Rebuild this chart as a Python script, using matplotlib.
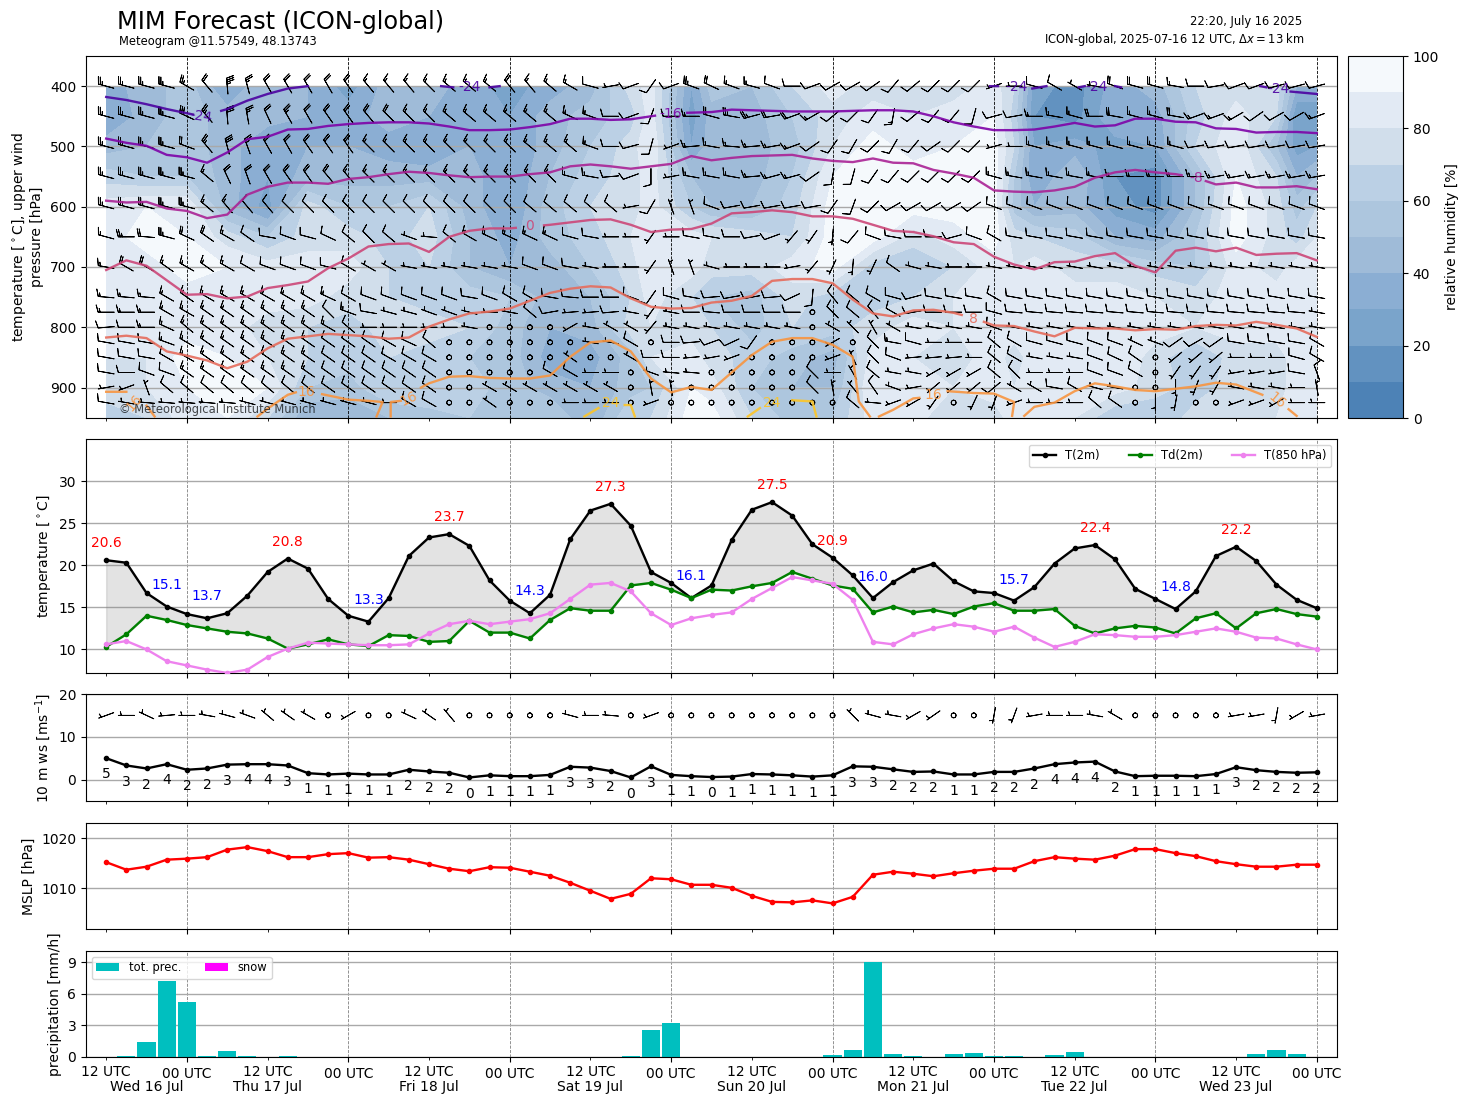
#!/usr/bin/env python3
"""
MIM meteogram, ICON-global run of 2025-07-16 12 UTC
"""

import numpy as np
import matplotlib
matplotlib.use('Agg')
import matplotlib.pyplot as plt
from matplotlib.colors import ListedColormap

# step number along the time axis, one step is 3 hours
steps = np.arange(61)
hours = steps * 3

t2m = [20.6, 20.3, 16.7, 15.1, 14.2, 13.7, 14.3, 16.4, 19.2, 20.8, 19.6, 16.0, 14.0, 13.3, 16.1, 21.1,
       23.3, 23.7, 22.3, 18.2, 15.8, 14.3, 16.5, 23.1, 26.5, 27.3, 24.7, 19.2, 17.9, 16.1, 17.6, 23.0,
       26.6, 27.5, 25.9, 22.5, 20.9, 18.8, 16.1, 18.0, 19.4, 20.2, 18.1, 16.9, 16.7, 15.8, 17.4, 20.2,
       22.0, 22.4, 20.7, 17.2, 16.0, 14.8, 16.9, 21.1, 22.2, 20.5, 17.7, 15.9, 14.9]
td2m = [10.3, 11.8, 14.0, 13.5, 12.9, 12.5, 12.1, 11.9, 11.3, 10.1, 10.6, 11.2, 10.6, 10.4, 11.7, 11.6,
        10.9, 11.0, 13.4, 12.0, 12.0, 11.3, 13.5, 14.9, 14.6, 14.6, 17.6, 17.9, 17.1, 16.1, 17.1, 17.0,
        17.5, 17.9, 19.2, 18.4, 17.6, 17.2, 14.4, 15.1, 14.4, 14.7, 14.2, 15.1, 15.5, 14.6, 14.6, 14.8,
        12.8, 11.9, 12.5, 12.8, 12.6, 11.9, 13.7, 14.3, 12.5, 14.3, 14.8, 14.2, 13.9]
t850 = [10.6, 11.0, 10.0, 8.6, 8.1, 7.6, 7.2, 7.6, 9.1, 10.1, 10.8, 10.7, 10.6, 10.5, 10.5, 10.6,
        11.9, 13.0, 13.4, 13.0, 13.3, 13.6, 14.3, 16.0, 17.7, 17.9, 16.9, 14.3, 12.9, 13.7, 14.1, 14.4,
        16.0, 17.3, 18.6, 18.2, 17.8, 15.9, 10.9, 10.6, 11.8, 12.5, 13.0, 12.7, 12.1, 12.7, 11.4, 10.3,
        10.9, 11.8, 11.7, 11.5, 11.5, 11.7, 12.1, 12.5, 12.1, 11.4, 11.3, 10.6, 10.0]

max_labels = [(0, 20.6), (9, 20.8), (17, 23.7), (25, 27.3), (33, 27.5), (36, 20.9), (49, 22.4), (56, 22.2)]
min_labels = [(3, 15.1), (5, 13.7), (13, 13.3), (21, 14.3), (29, 16.1), (38, 16.0), (45, 15.7), (53, 14.8)]

ws10 = [5.0, 3.3, 2.6, 3.6, 2.3, 2.6, 3.5, 3.6, 3.6, 3.3, 1.5, 1.2, 1.4, 1.2, 1.2, 2.3, 1.9, 1.6, 0.5, 1.0,
        0.8, 0.8, 1.1, 3.0, 2.8, 2.0, 0.5, 3.1, 1.1, 0.8, 0.6, 0.7, 1.3, 1.2, 1.0, 0.7, 1.0, 3.1, 3.0, 2.4,
        1.8, 1.9, 1.2, 1.2, 1.8, 1.8, 2.6, 3.6, 4.0, 4.2, 1.9, 0.8, 0.9, 0.9, 0.8, 1.3, 2.9, 2.2, 1.8, 1.6, 1.7]
ws10_labels = [5, 3, 2, 4, 2, 2, 3, 4, 4, 3, 1, 1, 1, 1, 1, 2, 2, 2, 0, 1,
               1, 1, 1, 3, 3, 2, 0, 3, 1, 1, 0, 1, 1, 1, 1, 1, 1, 3, 3, 2,
               2, 2, 1, 1, 2, 2, 2, 4, 4, 4, 2, 1, 1, 1, 1, 1, 3, 2, 2, 2, 2]

mslp = [1015.2, 1013.7, 1014.3, 1015.7, 1015.9, 1016.2, 1017.7, 1018.2, 1017.4, 1016.2, 1016.2, 1016.8,
        1017.0, 1016.1, 1016.2, 1015.7, 1014.8, 1013.9, 1013.4, 1014.2, 1014.1, 1013.3, 1012.5, 1011.1,
        1009.5, 1007.9, 1008.9, 1012.0, 1011.8, 1010.7, 1010.7, 1010.1, 1008.5, 1007.3, 1007.2, 1007.6,
        1007.0, 1008.3, 1012.7, 1013.3, 1012.9, 1012.4, 1013.0, 1013.5, 1013.9, 1013.9, 1015.4, 1016.2,
        1015.9, 1015.7, 1016.5, 1017.8, 1017.8, 1017.0, 1016.4, 1015.4, 1014.8, 1014.3, 1014.3, 1014.7, 1014.7]

precip = [0, 0.08, 1.4, 7.25, 5.2, 0.1, 0.55, 0.1, 0, 0.1, 0, 0, 0, 0, 0, 0, 0, 0, 0, 0,
          0, 0, 0, 0, 0, 0, 0.1, 2.55, 3.2, 0, 0, 0, 0, 0, 0, 0, 0.2, 0.65, 9.0, 0.25,
          0.1, 0, 0.25, 0.35, 0.1, 0.08, 0, 0.15, 0.45, 0, 0, 0, 0, 0, 0, 0, 0, 0.3, 0.65, 0.3, 0]
snow = [0] * 61

# relative humidity, read at these steps and pressure levels
rh_steps = [0, 2, 4, 6, 8, 10, 12, 14, 16, 18, 20, 22, 24, 26, 27, 29, 30, 32, 34, 36, 38, 40, 42, 44,
            45, 46, 48, 50, 52, 54, 56, 58, 59, 60]
rh_levels = [400, 450, 500, 550, 600, 650, 700, 750, 800, 850, 900, 950]
rh_columns = [
    [35, 30, 45, 65, 85, 85, 85, 85, 85, 80, 75, 65],
    [45, 45, 50, 60, 90, 95, 85, 85, 85, 80, 80, 70],
    [55, 55, 55, 60, 90, 90, 95, 85, 85, 95, 90, 85],
    [30, 45, 45, 45, 45, 75, 90, 90, 85, 90, 95, 90],
    [50, 45, 30, 30, 25, 60, 85, 85, 75, 80, 90, 70],
    [40, 40, 40, 45, 75, 75, 85, 85, 70, 70, 60, 40],
    [25, 35, 40, 45, 60, 75, 85, 75, 65, 65, 55, 40],
    [45, 45, 35, 45, 60, 65, 70, 70, 75, 70, 70, 50],
    [45, 40, 30, 45, 70, 75, 70, 65, 75, 65, 70, 55],
    [35, 40, 40, 45, 45, 50, 50, 65, 70, 60, 65, 60],
    [25, 30, 30, 30, 30, 35, 40, 60, 55, 55, 55, 60],
    [35, 45, 45, 50, 55, 55, 45, 45, 40, 35, 45, 60],
    [45, 55, 60, 65, 70, 65, 60, 50, 45, 35, 40, 40],
    [75, 65, 75, 75, 75, 80, 75, 70, 75, 55, 55, 70],
    [85, 85, 90, 85, 85, 90, 90, 85, 80, 80, 60, 70],
    [30, 25, 30, 50, 60, 85, 85, 70, 75, 85, 90, 95],
    [55, 45, 45, 45, 50, 80, 75, 60, 70, 75, 85, 95],
    [50, 45, 45, 45, 50, 75, 75, 55, 55, 65, 60, 70],
    [70, 60, 55, 60, 65, 70, 85, 75, 70, 55, 50, 55],
    [85, 75, 80, 90, 95, 95, 95, 65, 65, 45, 50, 60],
    [75, 85, 95, 95, 95, 95, 65, 65, 75, 85, 90, 85],
    [75, 80, 85, 95, 95, 75, 60, 70, 85, 80, 85, 85],
    [75, 85, 90, 95, 95, 85, 70, 80, 80, 75, 80, 70],
    [85, 90, 95, 95, 95, 95, 85, 85, 85, 85, 85, 75],
    [70, 65, 70, 60, 55, 75, 80, 85, 85, 75, 80, 85],
    [25, 20, 30, 30, 40, 70, 85, 85, 85, 85, 85, 80],
    [15, 15, 35, 50, 45, 65, 75, 85, 90, 85, 85, 80],
    [35, 40, 25, 20, 25, 40, 75, 85, 90, 90, 85, 60],
    [45, 35, 30, 15, 15, 35, 65, 80, 85, 75, 75, 60],
    [70, 65, 70, 50, 50, 60, 60, 75, 80, 60, 65, 75],
    [75, 85, 90, 90, 95, 95, 85, 85, 85, 75, 75, 75],
    [75, 70, 50, 70, 75, 75, 75, 85, 85, 75, 75, 80],
    [40, 20, 25, 40, 55, 65, 85, 85, 85, 85, 85, 90],
    [40, 20, 30, 50, 70, 80, 85, 90, 90, 90, 90, 80],
]
rh_colors = ['#4d82b6', '#6292c0', '#7aa4cb', '#8baed3', '#9fbbd8', '#adc6de', '#bbd0e5', '#d1deeb', '#e2eaf4', '#f5f9fc']

# isotherm heights in hPa, one per step where the line is regular
iso_m16 = [487, 494, 499, 514, 518, 527, 510, 488, 484, 472, 471, 466, 463, 461, 460, 460, 462, 467, 473, 473,
           472, 468, 463, 454, 454, 456, 455, 450, 445, 444, 443, 439, 440, 441, 442, 442, 442, 441, 440, 440,
           442, 450, 460, 467, 473, 473, 472, 467, 461, 467, 465, 454, 454, 459, 460, 470, 471, 477, 476, 476, 478]
iso_m8 = [590, 593, 592, 603, 607, 619, 613, 580, 567, 560, 560, 562, 554, 551, 546, 542, 544, 548, 551, 550,
          550, 546, 543, 533, 530, 533, 537, 533, 529, 516, 523, 519, 516, 515, 514, 520, 524, 526, 520, 527,
          528, 539, 545, 552, 573, 575, 576, 573, 567, 552, 543, 539, 543, 546, 552, 563, 560, 568, 568, 566, 571]
iso_0 = [705, 689, 698, 722, 746, 745, 752, 749, 735, 730, 724, 702, 686, 666, 662, 661, 675, 650, 640, 636,
         636, 633, 630, 626, 622, 621, 630, 642, 638, 637, 628, 611, 609, 606, 609, 616, 616, 620, 630, 640,
         642, 649, 659, 662, 683, 696, 704, 692, 691, 682, 677, 698, 709, 673, 668, 674, 668, 680, 678, 677, 689]
iso_8 = [817, 814, 818, 840, 847, 855, 868, 857, 835, 819, 815, 811, 813, 815, 819, 817, 799, 787, 777, 774,
         769, 756, 743, 736, 732, 734, 752, 766, 769, 768, 759, 756, 748, 723, 720, 720, 727, 754, 777, 782,
         772, 771, 776, 785, 797, 798, 807, 815, 801, 802, 802, 805, 803, 804, 798, 796, 797, 791, 796, 802, 816]

# the coldest and warmest lines break up, nan between the pieces
iso_m24_steps = [0, 1, 2, 3, 4, 4.3, np.nan, 5.7, 6, 7, 8, 9, 10, np.nan, 16.6, 17.2, np.nan, 19, 19.5, np.nan,
                 43.8, 44.2, np.nan, 45.9, 46.6, np.nan, 48.2, 48.5, np.nan, 50, 50.3, np.nan, 57.2, 57.5, np.nan, 58.7, 60]
iso_m24_p = [418, 423, 430, 438, 445, 447, np.nan, 441, 438, 424, 413, 404, 400, np.nan, 400, 402, np.nan, 402, 400, np.nan,
             400, 400, np.nan, 404, 400, np.nan, 402, 400, np.nan, 400, 402, np.nan, 400, 402, np.nan, 409, 413]
iso_16_steps = [0, 1, np.nan, 2, 2.4, np.nan, 7.5, 8, 9, 9.4, np.nan, 10.7, 12, 13, 13.7, 13.4, np.nan, 14.1, 14.1, 14.6, np.nan,
                15.6, 16, 17, 18, 19, 20, 21, 22, 23, 24, 25, 26, 27, 28, 29, 30, 31, 32, 33, 34, 35, 36, 37, 37.3, 37.85, np.nan,
                38.3, 39, 40, 40.3, np.nan, 41.7, 43, 44, 45, 44.9, np.nan, 45.5, 46, 47, 48, 49, 50, 51, 52, 53, 54, 55, 56, 57.3, np.nan,
                58.6, 59]
iso_16_p = [907, 907, np.nan, 930, 948, np.nan, 948, 935, 912, 908, np.nan, 911, 920, 922, 924, 948, np.nan, 948, 924, 922, np.nan,
            900, 893, 882, 881, 884, 885, 885, 880, 849, 825, 822, 840, 885, 908, 899, 904, 875, 846, 824, 818, 818, 829, 849, 923, 948, np.nan,
            948, 937, 918, 917, np.nan, 906, 909, 910, 924, 947, np.nan, 947, 932, 925, 906, 893, 898, 904, 906, 902, 898, 892, 895, 912, np.nan,
            936, 947]
iso_24_steps = [23.7, 24.4, np.nan, 25.7, 26, 26.2, np.nan, 31.8, 32.4, np.nan, 34, 35, 35.2]
iso_24_p = [948, 934, np.nan, 929, 929, 948, np.nan, 948, 934, np.nan, 921, 923, 948]

# gaps that make room for the labels: level, first step, last step
iso_gaps = [(-16, 27.2, 28.8), (-8, 53.3, 54.5), (0, 20.3, 21.7), (8, 42.4, 43.5)]
# label text, step, pressure, rotation
iso_labels = [(-24, 4.7, 450, -8), (-24, 18, 402, 0), (-24, 45.1, 401, 0), (-24, 49.1, 401, 0), (-24, 58.1, 404, 0),
              (-16, 28, 447, 0), (-8, 54, 552, 0), (0, 21, 632, 0), (8, 43, 786, 0),
              (16, 1.4, 925, 50), (16, 9.9, 908, 0), (16, 15, 918, 25), (16, 41, 913, 0), (16, 58, 922, -40),
              (24, 25, 926, 0), (24, 33, 926, 0)]

# upper winds, for each level a list of (first step, direction, speed)
wind_levels = [400, 450, 500, 550, 600, 650, 700, 750, 775, 800, 825, 850, 875, 900, 925]
wind_400 = [(0, 285, 25), (4, 300, 25), (5, 320, 20), (6, 355, 35), (7, 345, 25), (8, 330, 20), (12, 325, 20), (13, 320, 15),
            (16, 315, 15), (17, 310, 15), (20, 320, 20), (21, 320, 15), (22, 310, 15), (23, 300, 15), (24, 285, 10), (25, 260, 5),
            (26, 250, 10), (27, 215, 10), (28, 250, 10), (29, 290, 25), (30, 295, 20), (31, 290, 15), (32, 285, 15), (33, 290, 10),
            (34, 270, 10), (35, 250, 10), (36, 240, 10), (38, 235, 10), (39, 220, 10), (40, 230, 10), (41, 225, 10), (44, 250, 5),
            (45, 270, 5), (46, 285, 10), (47, 300, 10), (48, 300, 5), (49, 280, 5), (50, 290, 20), (51, 285, 20), (53, 280, 15),
            (54, 270, 10), (55, 260, 10), (56, 250, 10), (58, 255, 10)]
wind_450 = [(0, 285, 25), (4, 295, 30), (5, 320, 25), (6, 355, 30), (7, 350, 25), (8, 335, 20), (9, 330, 25), (10, 330, 20),
            (11, 325, 20), (13, 320, 20), (14, 315, 20), (15, 315, 15), (17, 310, 15), (23, 295, 15), (24, 290, 15), (25, 270, 10),
            (26, 250, 10), (27, 200, 10), (28, 270, 10), (29, 270, 15), (30, 285, 20), (31, 280, 25), (32, 255, 25), (33, 260, 20),
            (34, 250, 20), (35, 240, 15), (36, 230, 10), (37, 225, 10), (38, 215, 10), (39, 190, 15), (40, 230, 10), (41, 220, 10),
            (43, 195, 10), (44, 255, 10), (45, 260, 10), (46, 270, 15), (47, 280, 15), (48, 285, 15), (49, 270, 20), (50, 280, 20),
            (51, 285, 15), (53, 280, 20), (54, 250, 15), (56, 240, 15), (57, 235, 10), (58, 240, 10), (60, 250, 15)]
wind_500 = [(0, 285, 25), (4, 290, 20), (5, 320, 25), (6, 345, 30), (7, 340, 25), (8, 330, 20), (10, 325, 20), (13, 315, 15),
            (21, 310, 15), (24, 290, 15), (25, 270, 10), (26, 255, 10), (27, 195, 10), (28, 250, 5), (29, 265, 15), (30, 280, 15),
            (31, 275, 15), (32, 265, 15), (33, 260, 15), (34, 250, 15), (35, 235, 10), (36, 215, 10), (37, 210, 10), (38, 225, 10),
            (39, 210, 10), (40, 220, 10), (41, 235, 10), (42, 225, 10), (44, 255, 5), (45, 270, 5), (46, 285, 15), (54, 260, 10)]
wind_550 = [(0, 285, 25), (5, 310, 15), (6, 335, 20), (7, 340, 20), (8, 330, 20), (9, 325, 20), (11, 320, 20), (12, 320, 15),
            (13, 315, 15), (23, 285, 15), (24, 280, 15), (25, 265, 10), (26, 250, 10), (27, 180, 10), (28, 260, 5), (29, 280, 15),
            (32, 265, 15), (33, 255, 15), (35, 235, 10), (36, 190, 10), (37, 195, 10), (38, 215, 10), (39, 220, 10), (40, 225, 10),
            (44, 285, 15), (45, 280, 15), (50, 270, 15), (55, 260, 15)]
wind_600 = [(0, 285, 25), (5, 310, 15), (6, 320, 15), (7, 320, 10), (9, 315, 10), (21, 310, 10), (26, 260, 5), (27, 210, 10),
            (28, 340, 5), (30, 290, 10), (31, 260, 10), (36, 215, 10), (37, 200, 10), (38, 225, 10), (39, 240, 10), (43, 235, 10),
            (44, 290, 10)]
wind_650 = [(0, 285, 15), (1, 270, 25), (2, 275, 20), (3, 285, 25), (4, 295, 20), (5, 305, 20), (6, 300, 15), (7, 305, 10),
            (8, 280, 10), (9, 290, 10), (10, 285, 10), (11, 295, 10), (12, 310, 10), (13, 315, 10), (14, 310, 10), (15, 290, 5),
            (16, 275, 5), (17, 310, 10), (18, 300, 15), (19, 295, 15), (23, 285, 10), (24, 280, 10), (25, 270, 5), (27, 215, 5),
            (28, 270, 5), (29, 280, 10), (31, 270, 10), (32, 260, 10), (33, 250, 10), (34, 220, 5), (35, 215, 5), (36, 185, 5),
            (37, 220, 10), (38, 290, 10), (39, 280, 10), (40, 270, 10), (42, 255, 10), (43, 290, 10), (44, 300, 10), (45, 280, 10)]
wind_700 = [(0, 280, 15), (1, 300, 20), (3, 305, 15), (4, 300, 15), (5, 305, 15), (6, 300, 15), (7, 300, 10), (8, 290, 10),
            (11, 285, 10), (12, 300, 10), (13, 300, 5), (15, 280, 5), (21, 290, 10), (23, 280, 10), (24, 280, 5), (25, 270, 5),
            (27, 215, 5), (28, 340, 5), (30, 285, 5), (31, 270, 5), (34, 260, 5), (35, 220, 5), (36, 205, 5), (37, 185, 5),
            (38, 205, 5), (39, 305, 10), (40, 285, 5), (41, 280, 5), (42, 270, 5), (44, 280, 5)]
wind_750 = [(0, 275, 15), (3, 300, 15), (4, 305, 15), (5, 300, 15), (11, 295, 15), (12, 300, 10), (13, 290, 10), (18, 280, 10),
            (19, 290, 10), (20, 300, 10), (22, 280, 10), (23, 275, 10), (24, 270, 10), (26, 290, 10), (27, 215, 10), (28, 285, 10),
            (29, 280, 10), (30, 265, 10), (31, 260, 10), (33, 265, 10), (34, 245, 10), (35, 185, 10), (36, 320, 10), (37, 310, 10),
            (38, 300, 10), (39, 285, 10), (40, 255, 10), (41, 280, 10), (44, 300, 10), (45, 280, 10)]
wind_775 = [(0, 270, 15), (3, 300, 15), (5, 305, 15), (11, 315, 10), (12, 290, 15), (13, 280, 10), (14, 285, 5), (16, 290, 5),
            (18, 285, 5), (19, 270, 5), (20, 280, 5), (21, 310, 10), (22, 260, 10), (23, 265, 5), (25, 265, 10), (26, 280, 5),
            (27, 215, 5), (28, 280, 5), (29, 270, 10), (30, 275, 10), (31, 270, 10), (35, 0, 0), (36, 315, 10), (37, 310, 10),
            (38, 320, 10), (39, 300, 10), (40, 260, 10), (41, 270, 10), (44, 285, 10), (45, 275, 10), (60, 280, 5)]
wind_800 = [(0, 265, 10), (1, 270, 10), (2, 270, 15), (3, 295, 15), (4, 310, 15), (5, 305, 15), (11, 300, 15), (12, 310, 10),
            (13, 270, 5), (18, 280, 5), (19, 0, 0), (23, 240, 5), (24, 280, 5), (25, 300, 5), (27, 220, 5), (28, 280, 5),
            (35, 0, 0), (36, 300, 5), (37, 315, 5), (38, 330, 5), (39, 300, 5), (40, 280, 5), (44, 290, 10), (45, 280, 5)]
wind_825 = [(0, 280, 10), (3, 290, 15), (4, 300, 15), (5, 305, 15), (11, 305, 10), (14, 300, 10), (15, 295, 10), (16, 310, 10),
            (17, 0, 0), (24, 280, 5), (26, 300, 10), (27, 0, 0), (28, 270, 10), (29, 265, 10), (30, 250, 10), (31, 245, 10),
            (32, 215, 10), (33, 0, 0), (36, 240, 5), (37, 0, 0), (38, 315, 10), (39, 280, 15), (40, 285, 10), (41, 270, 5),
            (44, 310, 10), (45, 300, 10), (46, 285, 10), (49, 290, 10), (51, 295, 5), (52, 290, 5), (53, 235, 10), (54, 240, 10),
            (55, 235, 10), (56, 280, 10), (60, 300, 10)]
wind_850 = [(0, 280, 10), (3, 300, 10), (4, 300, 15), (5, 305, 15), (11, 305, 10), (14, 300, 10), (17, 0, 0), (23, 305, 5),
            (24, 0, 0), (26, 300, 5), (27, 270, 10), (29, 265, 5), (30, 260, 5), (31, 250, 5), (32, 0, 0), (36, 250, 5),
            (37, 335, 5), (38, 315, 10), (39, 290, 10), (40, 265, 5), (43, 270, 5), (44, 310, 10), (45, 300, 10), (46, 280, 5),
            (49, 290, 10), (50, 295, 10), (51, 305, 10), (52, 0, 0), (53, 230, 5), (56, 270, 5), (59, 285, 10), (60, 300, 10)]
wind_875 = [(0, 280, 10), (1, 270, 10), (2, 290, 10), (4, 305, 15), (11, 305, 10), (17, 0, 0), (22, 300, 10), (24, 270, 5),
            (26, 0, 0), (27, 290, 5), (28, 275, 5), (30, 0, 0), (35, 315, 10), (36, 270, 5), (37, 330, 5), (38, 310, 10),
            (39, 280, 5), (41, 240, 5), (44, 310, 10), (45, 315, 10), (46, 270, 5), (49, 290, 10), (51, 300, 10), (52, 0, 0),
            (53, 215, 5), (56, 260, 5), (59, 280, 10), (60, 340, 10)]
wind_900 = [(0, 260, 5), (1, 250, 5), (2, 340, 5), (3, 310, 10), (11, 305, 10), (17, 0, 0), (19, 300, 5), (26, 0, 0), (27, 350, 5),
            (29, 0, 0), (35, 315, 10), (36, 350, 5), (37, 320, 5), (38, 325, 10), (39, 290, 5), (40, 260, 5), (41, 230, 5),
            (44, 230, 10), (45, 300, 5), (47, 280, 10), (48, 300, 10), (49, 285, 5), (50, 280, 5), (51, 0, 0), (53, 180, 5),
            (54, 200, 5), (55, 210, 5), (56, 280, 5), (59, 270, 5), (60, 350, 5)]
wind_925 = [(0, 280, 10), (1, 280, 5), (2, 275, 5), (7, 285, 5), (14, 270, 5), (15, 300, 10), (17, 0, 0), (19, 305, 5), (20, 0, 0),
            (23, 270, 5), (26, 0, 0), (27, 250, 5), (28, 0, 0), (37, 310, 10), (38, 275, 5), (39, 250, 5), (40, 240, 5), (41, 215, 5),
            (42, 0, 0), (43, 205, 5), (44, 200, 5), (45, 250, 5), (46, 270, 5), (49, 310, 10), (50, 305, 10), (51, 0, 0), (52, 180, 5),
            (53, 190, 5), (54, 0, 0), (56, 250, 5), (58, 240, 5), (59, 270, 5)]
wind_rows = [wind_400, wind_450, wind_500, wind_550, wind_600, wind_650, wind_700, wind_750, wind_775, wind_800,
             wind_825, wind_850, wind_875, wind_900, wind_925]
wind_10m = [(0, 250, 5), (1, 270, 5), (2, 295, 5), (3, 265, 5), (4, 270, 5), (5, 280, 5), (6, 285, 5), (7, 290, 5), (8, 310, 5),
            (9, 305, 5), (10, 300, 5), (11, 0, 0), (12, 240, 5), (13, 0, 0), (15, 295, 5), (16, 305, 5), (17, 320, 5), (18, 0, 0),
            (23, 285, 5), (24, 270, 5), (25, 275, 5), (26, 0, 0), (27, 250, 5), (28, 0, 0), (37, 315, 5), (38, 285, 5), (39, 280, 5),
            (40, 240, 5), (41, 235, 5), (42, 0, 0), (44, 190, 5), (45, 200, 5), (46, 260, 5), (47, 270, 5), (49, 280, 5), (50, 300, 5),
            (51, 0, 0), (56, 260, 5), (58, 190, 5), (59, 240, 5), (60, 260, 5)]

tick_12 = ['12 UTC'] * 8
tick_00 = ['00 UTC'] * 8
date_labels = [(2, 'Wed 16 Jul'), (8, 'Thu 17 Jul'), (16, 'Fri 18 Jul'), (24, 'Sat 19 Jul'),
               (32, 'Sun 20 Jul'), (40, 'Mon 21 Jul'), (48, 'Tue 22 Jul'), (56, 'Wed 23 Jul')]


def expand_wind(row):
    """(first step, direction, speed) to u, v on all 61 steps"""
    starts = [r[0] for r in row] + [61]
    direc = np.repeat([r[1] for r in row], np.diff(starts))
    speed = np.repeat([r[2] for r in row], np.diff(starts))
    rad = np.radians(direc)
    return -speed * np.sin(rad), -speed * np.cos(rad)


def cut_line(x, y, gap):
    """take the stretch of a line away where its label goes"""
    x = np.asarray(x, dtype=float)
    y = np.asarray(y, dtype=float)
    y0, y1 = np.interp(gap, x, y)
    xs = np.r_[x[x < gap[0]], gap[0], np.nan, gap[1], x[x > gap[1]]]
    ys = np.r_[y[x < gap[0]], y0, np.nan, y1, y[x > gap[1]]]
    return xs, ys


W, H = 1469.0, 1105.0
barb_sizes = dict(emptybarb=0.15, height=0.45)


def panel(x0, x1, y0, y1):
    return fig.add_axes([x0 / W, 1 - y1 / H, (x1 - x0) / W, (y1 - y0) / H])


fig = plt.figure(figsize=(14.69, 11.05), dpi=100)
ax1 = panel(86, 1337, 56, 418)
ax2 = panel(86, 1337, 439, 673)
ax3 = panel(86, 1337, 694, 801)
ax4 = panel(86, 1337, 823, 929)
ax5 = panel(86, 1337, 951, 1057)
cax = panel(1348, 1403, 56, 418)

for ax in [ax1, ax2, ax3, ax4, ax5]:
    ax.set_xlim(-3, 183)
    ax.set_xticks(np.arange(12, 181, 24))
    ax.set_xticks(np.arange(0, 181, 24), minor=True)
    ax.set_axisbelow(True)
    ax.grid(True, axis='y', color='darkgrey', lw=1.0)
    vcolor = 'black' if ax is ax1 else 'grey'
    ax.grid(True, axis='x', color=vcolor, ls='--', lw=0.6)
    if ax is not ax5:
        ax.set_xticklabels([])

ax5.set_xticklabels(tick_00)
ax5.set_xticklabels(tick_12, minor=True)
for step, name in date_labels:
    ax5.text(step * 3, -0.283, name, transform=ax5.get_xaxis_transform(), ha='center', va='center', fontsize=10)

# upper air panel
rh_grid = np.array(rh_columns).T
cmap = ListedColormap(rh_colors)
cf = ax1.contourf(np.array(rh_steps) * 3, rh_levels, rh_grid, levels=np.arange(0, 101, 10), cmap=cmap, vmin=0, vmax=100, zorder=1)
ax1.set_ylim(950.5, 350)
ax1.set_yticks([400, 500, 600, 700, 800, 900])
ax1.set_axisbelow(False)
ax1.grid(True, axis='y', color='darkgrey', lw=1.0, zorder=2)
ax1.set_ylabel('temperature [$^\\circ$C], upper wind\npressure [hPa]')

for level, row in zip(wind_levels, wind_rows):
    u, v = expand_wind(row)
    ax1.barbs(hours, np.full(61, level), u, v, pivot='middle', length=4.8, linewidth=0.65, color='black', sizes=barb_sizes, zorder=3)

iso_cmap = matplotlib.colormaps['plasma']


def iso_color(level):
    return iso_cmap((level + 32) / 64.0)


for level, values in [(-16, iso_m16), (-8, iso_m8), (0, iso_0), (8, iso_8)]:
    xs, ys = hours.astype(float) / 3, np.array(values, dtype=float)
    for gap in iso_gaps:
        if gap[0] == level:
            xs, ys = cut_line(xs, ys, gap[1:])
    ax1.plot(xs * 3, ys, color=iso_color(level), lw=1.7, alpha=0.9, zorder=4)
for level, xs, ys in [(-24, iso_m24_steps, iso_m24_p), (16, iso_16_steps, iso_16_p), (24, iso_24_steps, iso_24_p)]:
    ax1.plot(np.array(xs) * 3, ys, color=iso_color(level), lw=1.7, alpha=0.9, zorder=4)
for level, step, p, rot in iso_labels:
    ax1.text(step * 3, p, str(level), color=iso_color(level), fontsize=10, ha='center', va='center', rotation=rot, zorder=5, alpha=0.9)

fig.text(119 / W, 1 - 410 / H, '\u00a9 Meteorological Institute Munich', fontsize=8.3, alpha=0.7, ha='left', va='center')

cb = fig.colorbar(cf, cax=cax, ticks=[0, 20, 40, 60, 80, 100])
cb.set_label('relative humidity [%]')
cb.outline.set_linewidth(0.8)

# 2 m temperature panel
ax2.fill_between(hours, t2m, td2m, color='grey', alpha=0.22, zorder=1)
ax2.plot(hours, t2m, color='black', marker='o', ms=3, lw=1.7, label='T(2m)', zorder=3)
ax2.plot(hours, td2m, color='green', marker='o', ms=3, lw=1.7, label='Td(2m)', zorder=3)
ax2.plot(hours, t850, color='violet', marker='o', ms=3, lw=1.7, label='T(850 hPa)', zorder=3)
for step, value in max_labels:
    ax2.text(step * 3, value + 2.0, '%.1f' % value, color='red', ha='center', va='center', fontsize=10)
for step, value in min_labels:
    ax2.text(step * 3, value + 2.6, '%.1f' % value, color='blue', ha='center', va='center', fontsize=10)
ax2.set_ylim(7.2, 35)
ax2.set_yticks([10, 15, 20, 25, 30])
ax2.set_ylabel('temperature [$^\\circ$C]')
ax2.legend(loc='upper right', ncol=3, fontsize=8.3, columnspacing=2.5)

# 10 m wind panel
ax3.plot(hours, ws10, color='black', marker='o', ms=3, lw=1.7)
u10, v10 = expand_wind(wind_10m)
ax3.barbs(hours, np.full(61, 15), u10, v10, pivot='middle', length=4.8, linewidth=0.65, color='black', sizes=barb_sizes)
for h, value, name in zip(hours, ws10, ws10_labels):
    ax3.text(h, value - 3.8, str(name), ha='center', va='center', fontsize=10)
ax3.set_ylim(-5, 20)
ax3.set_yticks([0, 10, 20])
ax3.set_ylabel('10 m ws [ms$^{-1}$]')

# pressure panel
ax4.plot(hours, mslp, color='red', marker='o', ms=3, lw=1.7)
ax4.set_ylim(1001.9, 1023)
ax4.set_yticks([1010, 1020])
ax4.set_ylabel('MSLP [hPa]')

# precipitation panel
ax5.bar(hours, precip, width=2.7, color='c', label='tot. prec.', zorder=2)
ax5.bar(hours, snow, width=2.7, color='magenta', label='snow', zorder=3)
ax5.set_ylim(0, 10.05)
ax5.set_yticks([0, 3, 6, 9])
ax5.set_ylabel('precipitation [mm/h]')
ax5.legend(loc='upper left', ncol=2, fontsize=8.3, columnspacing=2.1)

fig.text(117 / W, 1 - 21.5 / H, 'MIM Forecast (ICON-global)', fontsize=17.3, ha='left', va='center')
fig.text(119 / W, 1 - 41 / H, 'Meteogram @11.57549, 48.13743', fontsize=8.3, ha='left', va='center')
fig.text(1302 / W, 1 - 22 / H, '22:20, July 16 2025', fontsize=8.3, ha='right', va='center')
fig.text(1305 / W, 1 - 39 / H, 'ICON-global, 2025-07-16 12 UTC, $\\Delta x = 13$ km', fontsize=8.3, ha='right', va='center')

fig.savefig('out.png', dpi=100)
